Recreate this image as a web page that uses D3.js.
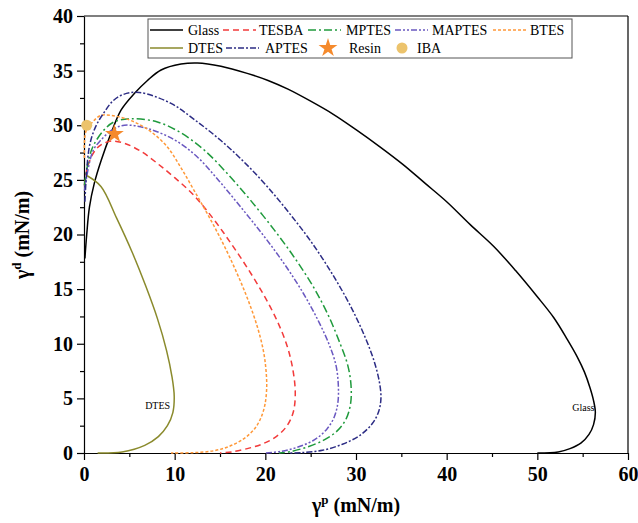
<!DOCTYPE html>
<html>
<head>
<meta charset="utf-8">
<title>Wetting envelopes</title>
<style>
  body { margin: 0; background: #fff; }
  svg text { font-family: "Liberation Serif", "Times New Roman", serif; }
  .tick text { font-size: 20px; font-weight: bold; }
  .domain { stroke: #000; stroke-width: 1.2px; }
  .tick line { stroke: #000; stroke-width: 1.2px; }
  .curve { fill: none; stroke-width: 1.5px; }
</style>
<script src="https://d3js.org/d3.v7.min.js"></script>
</head>
<body>
<script>
// curves: [polar, dispersive]
var glass = [[0.1,17.8],[0.3,20],[0.6,22.5],[1.14,24.7],[1.9,26.8],[3.0,29.3],[4.1,31.4],[5.55,32.9],[7.0,34.1],[8.5,35.06],[10.7,35.6],[12.5,35.7],[15.1,35.4],[18,34.75],[20.3,34.1],[22.5,33.3],[25,32.2],[27.5,31.0],[30,29.6],[32.6,28.05],[35.2,26.4],[37.6,24.7],[40,23.0],[42.6,20.9],[45.2,18.9],[47.6,16.7],[50,14.3],[51.8,12.4],[53.3,10.4],[54.4,8.8],[55.2,7.4],[55.8,6.0],[56.2,4.8],[56.4,3.7],[56.2,2.6],[55.7,1.7],[54.8,0.9],[53.6,0.4],[52.3,0.1],[50,0]];
var tesba = [[0.05,24.5],[0.4,26.2],[1.14,27.6],[1.87,28.2],[3.0,28.55],[4.45,28.35],[6.3,27.6],[8.1,26.5],[10.0,25.2],[12.1,23.6],[14.3,21.4],[16.2,19.2],[18.05,16.9],[19.8,14.5],[21.3,12.1],[22.4,9.8],[23.0,7.8],[23.3,5.6],[23.1,3.8],[22.4,2.5],[21.2,1.5],[19.6,0.8],[18.0,0.4],[16.3,0.1],[15,0]];
var mptes = [[0.05,24.5],[0.58,27.1],[1.14,28.3],[2.24,29.6],[3.3,30.3],[5.2,30.6],[8.1,30.3],[10.7,29.3],[13.3,27.7],[16.0,25.4],[18.4,23.1],[21.0,20.4],[23.2,17.9],[25.3,15.2],[27.0,12.5],[28.3,9.9],[29.1,8.0],[29.45,6.2],[29.4,4.5],[28.9,3.1],[27.9,2.0],[26.5,1.2],[24.8,0.6],[22.9,0.15],[21.5,0]];
var maptes = [[0.05,24],[0.96,27.6],[1.87,28.65],[3.16,29.6],[4.45,30.0],[7.0,29.7],[10.0,28.65],[12.5,27.1],[14.9,24.9],[17.3,22.5],[19.8,19.9],[22.1,17.3],[24.2,14.6],[25.9,12.0],[27.1,9.8],[27.8,8.0],[28.05,6.2],[28.0,4.6],[27.6,3.3],[26.8,2.2],[25.4,1.2],[23.6,0.55],[21.8,0.15],[19.9,0]];
var btes = [[0.05,27],[0.2,29.4],[0.96,30.3],[1.87,30.9],[3.7,30.8],[5.55,30.3],[7.4,29.4],[9.2,28.0],[10.7,26.1],[12.3,23.8],[14.0,21.3],[15.5,18.9],[16.9,16.4],[18.05,14.1],[19.1,11.6],[19.75,9.5],[20.05,7.8],[20.15,6.0],[19.95,4.4],[19.5,3.2],[18.8,2.2],[17.6,1.3],[16.0,0.6],[14.3,0.2],[12.0,0.03],[9.6,0]];
var dtes = [[0.3,25.4],[1.87,24.4],[3.6,21.5],[5.3,18.4],[6.8,15.3],[8.1,12.3],[9.1,9.4],[9.7,7.0],[9.95,5.2],[9.8,3.7],[9.2,2.5],[8.2,1.5],[6.7,0.7],[4.2,0.1],[1.5,0]];
var aptes = [[0.1,23],[0.58,28.0],[1.3,29.9],[2.24,31.2],[3.16,32.2],[4.27,32.8],[6.1,33.0],[9.6,32.0],[12.2,30.5],[15.1,28.6],[17.7,26.6],[20.2,24.4],[22.6,22.0],[25.0,19.4],[27.3,16.5],[29.3,13.6],[30.9,10.8],[32.0,8.4],[32.6,6.4],[32.75,5.0],[32.5,3.8],[31.8,2.7],[30.4,1.6],[28.5,0.8],[26.3,0.25],[24.0,0.03],[22.5,0]];
var resin = [3.35, 29.2];
var iba = [0.3, 30.0];

var xTicks = [0, 10, 20, 30, 40, 50, 60];
var yTicks = [0, 5, 10, 15, 20, 25, 30, 35, 40];

var series = [
  { name: "Glass",  data: glass,  color: "#000000", dash: null },
  { name: "TESBA",  data: tesba,  color: "#f23a3a", dash: "6,4" },
  { name: "MPTES",  data: mptes,  color: "#1f9a3c", dash: "8,3,2,3" },
  { name: "MAPTES", data: maptes, color: "#6a58c0", dash: "6,2,2,2,2,2" },
  { name: "BTES",   data: btes,   color: "#ff9838", dash: "3,2" },
  { name: "DTES",   data: dtes,   color: "#8a8a2c", dash: null },
  { name: "APTES",  data: aptes,  color: "#2c2c84", dash: "6,2,2,2" }
];

var w = 638, h = 523;
var mLeft = 84, mRight = 628, mTop = 16, mBottom = 453;

var svg = d3.select("body").append("svg")
  .attr("width", w)
  .attr("height", h);

var x = d3.scaleLinear().domain([0, 60]).range([mLeft, mRight]);
var y = d3.scaleLinear().domain([0, 40]).range([mBottom, mTop]);

// minor ticks
svg.append("g")
  .attr("transform", "translate(0," + mBottom + ")")
  .call(d3.axisBottom(x).tickValues(d3.range(5, 60, 10)).tickSize(4).tickFormat(""))
  .select(".domain").remove();
svg.append("g")
  .attr("transform", "translate(" + mLeft + ",0)")
  .call(d3.axisLeft(y).tickValues(d3.range(2.5, 40, 5)).tickSize(4).tickFormat(""))
  .select(".domain").remove();

svg.append("g")
  .attr("transform", "translate(0," + mBottom + ")")
  .call(d3.axisBottom(x).tickValues(xTicks).tickSize(7).tickSizeOuter(0).tickPadding(7));
svg.append("g")
  .attr("transform", "translate(" + mLeft + ",0)")
  .call(d3.axisLeft(y).tickValues(yTicks).tickSize(7).tickSizeOuter(0).tickPadding(4));

// top and right frame
svg.append("line").attr("x1", mLeft).attr("x2", mRight).attr("y1", mTop).attr("y2", mTop)
  .attr("stroke", "#000").attr("stroke-width", 1.2);
svg.append("line").attr("x1", mRight).attr("x2", mRight).attr("y1", mTop).attr("y2", mBottom)
  .attr("stroke", "#000").attr("stroke-width", 1.2);

var line = d3.line()
  .x(function (d) { return x(d[0]); })
  .y(function (d) { return y(d[1]); })
  .curve(d3.curveCatmullRom.alpha(0.5));

svg.selectAll("path.curve")
  .data(series)
  .enter()
  .append("path")
  .attr("class", "curve")
  .attr("d", function (d) { return line(d.data); })
  .attr("stroke", function (d) { return d.color; })
  .attr("stroke-dasharray", function (d) { return d.dash; });

var star = d3.symbol().type(d3.symbolStar).size(110);
svg.append("path")
  .attr("d", star())
  .attr("transform", "translate(" + x(resin[0]) + "," + y(resin[1]) + ")")
  .attr("fill", "#f58a2c");
svg.append("circle")
  .attr("cx", x(iba[0])).attr("cy", y(iba[1])).attr("r", 5.5)
  .attr("fill", "#ecc36c");

// in-plot labels
svg.append("text").attr("x", x(9.5)).attr("y", y(4)).attr("text-anchor", "end")
  .attr("font-size", 10).text("DTES");
svg.append("text").attr("x", x(56.3)).attr("y", y(3.8)).attr("text-anchor", "end")
  .attr("font-size", 10).text("Glass");

// axis titles
var xt = svg.append("text").attr("x", 356).attr("y", 512).attr("text-anchor", "middle")
  .attr("font-size", 20).attr("font-weight", "bold");
xt.append("tspan").text("\u03b3");
xt.append("tspan").attr("font-size", 13).attr("dy", -8).text("p");
xt.append("tspan").attr("dy", 8).text(" (mN/m)");

var yt = svg.append("text").attr("transform", "translate(29,235) rotate(-90)")
  .attr("text-anchor", "middle").attr("font-size", 20).attr("font-weight", "bold");
yt.append("tspan").text("\u03b3");
yt.append("tspan").attr("font-size", 13).attr("dy", -8).text("d");
yt.append("tspan").attr("dy", 8).text(" (mN/m)");

// legend
var legend = svg.append("g");
legend.append("rect").attr("x", 148).attr("y", 19).attr("width", 424).attr("height", 39)
  .attr("fill", "#fff").attr("stroke", "#555").attr("stroke-width", 1);

var legItems = [
  { s: series[0], lx: 150, tx: 188, row: 0 },
  { s: series[1], lx: 223, tx: 259, row: 0 },
  { s: series[2], lx: 308, tx: 346, row: 0 },
  { s: series[3], lx: 395, tx: 432, row: 0 },
  { s: series[4], lx: 493, tx: 530, row: 0 },
  { s: series[5], lx: 150, tx: 188, row: 1 },
  { s: series[6], lx: 226, tx: 265, row: 1 }
];
var rowY = [30, 48];

legItems.forEach(function (it) {
  var yy = rowY[it.row];
  legend.append("line")
    .attr("x1", it.lx).attr("x2", it.lx + 33).attr("y1", yy).attr("y2", yy)
    .attr("stroke", it.s.color).attr("stroke-width", 1.5)
    .attr("stroke-dasharray", it.s.dash);
  legend.append("text").attr("x", it.tx).attr("y", yy + 5)
    .attr("font-size", 14).text(it.s.name);
});
legend.append("path").attr("d", star())
  .attr("transform", "translate(328," + rowY[1] + ")").attr("fill", "#f58a2c");
legend.append("text").attr("x", 349).attr("y", rowY[1] + 5).attr("font-size", 14).text("Resin");
legend.append("circle").attr("cx", 402).attr("cy", rowY[1]).attr("r", 5.5).attr("fill", "#ecc36c");
legend.append("text").attr("x", 417).attr("y", rowY[1] + 5).attr("font-size", 14).text("IBA");
</script>
</body>
</html>
